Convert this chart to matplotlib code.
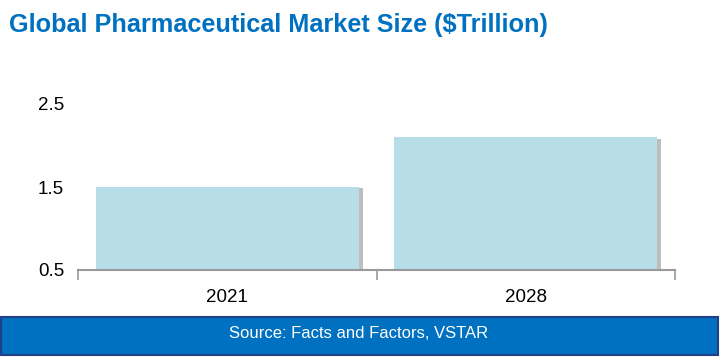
import matplotlib
matplotlib.use("Agg")
import matplotlib.pyplot as plt
import matplotlib.patheffects as pe
from matplotlib.patches import Rectangle

years = ["2021", "2028"]
market_size = [1.5, 2.1]
y_ticks = [0.5, 1.5, 2.5]

title = "Global Pharmaceutical Market Size ($Trillion)"
source = "Source: Facts and Factors, VSTAR"

plt.rcParams["font.family"] = ["Liberation Sans", "DejaVu Sans"]

fig = plt.figure(figsize=(7.2, 3.59), dpi=100)
ax = fig.add_axes([78 / 720, 1 - 270 / 359, (675 - 78) / 720, (270 - 104) / 359])

x = range(len(years))
bars = ax.bar(x, [v - 0.5 for v in market_size], bottom=0.5, width=0.88,
              color="#B7DDE8", zorder=2)
for b in bars:
    b.set_path_effects([pe.SimplePatchShadow(offset=(3, -1), shadow_rgbFace="#8a8a8a", alpha=0.55),
                        pe.Normal()])

ax.set_xlim(-0.5, len(years) - 0.5)
ax.set_ylim(0.5, 2.5)
ax.set_yticks(y_ticks)
ax.set_yticklabels([f"{t:.1f}" for t in y_ticks], fontsize=13.5)
ax.tick_params(axis="y", length=0, pad=10)

ax.set_xticks(list(x))
ax.set_xticklabels(years, fontsize=13.5)
ax.tick_params(axis="x", length=0, pad=14)
ax.set_xticks([-0.5, 0.5, 1.5], minor=True)
ax.tick_params(axis="x", which="minor", length=7, color="#999999", width=1.2, direction="out")

for s in ["top", "right", "left"]:
    ax.spines[s].set_visible(False)
ax.spines["bottom"].set_color("#999999")
ax.spines["bottom"].set_linewidth(1.5)
ax.set_facecolor("none")

fig.text(9 / 720, 1 - 25 / 359, title, fontsize=18.2, fontweight="bold", color="#0070C0",
         family=["Liberation Sans Narrow", "Liberation Sans", "DejaVu Sans"],
         va="center", ha="left")

fig.patches.append(Rectangle((1 / 720, 1 - 355 / 359), 717 / 720, 38 / 359,
                             transform=fig.transFigure, facecolor="#0070C0",
                             edgecolor="#1F3F86", linewidth=1.5))
fig.text(359 / 720, 1 - 334 / 359, source, fontsize=12, color="white", ha="center", va="center")

fig.savefig("out.png", dpi=100)
